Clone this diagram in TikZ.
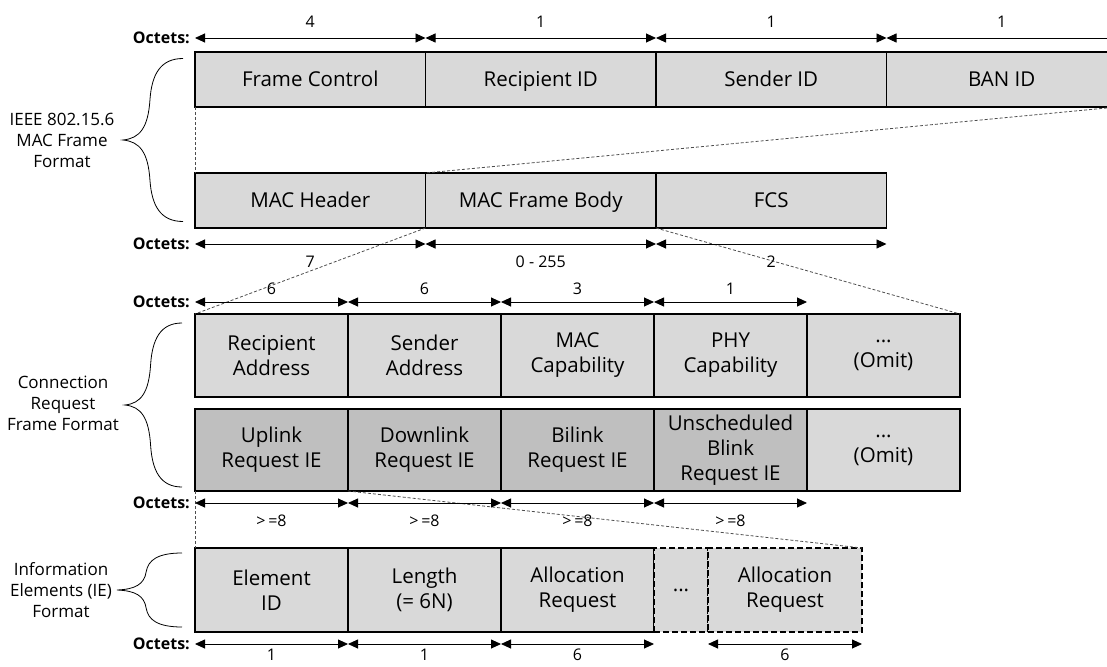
\documentclass[tikz,border=0pt]{standalone}
\usepackage{fontspec}
\setmainfont{Open Sans}
\usetikzlibrary{arrows.meta,positioning}

\definecolor{fieldgray}{HTML}{D9D9D9}
\definecolor{iegray}{HTML}{BFBFBF}
\definecolor{linegray}{HTML}{4D4D4D}

\tikzset{
  field/.style={draw, line width=1.4pt, fill=fieldgray, inner sep=0pt, outer sep=0pt,
    align=center, font=\fontsize{20.5}{25}\selectfont},
  widefield/.style={field, minimum width=230.5pt, minimum height=55pt, text height=14.6pt, text depth=0pt},
  cellfield/.style={field, minimum width=153pt, minimum height=83pt},
  iefield/.style={cellfield, fill=iegray},
  dashfield/.style={field, dash pattern=on 6pt off 3pt, minimum height=84pt},
  octsize/.style={{Triangle[length=10pt,width=9pt]}-{Triangle[length=10pt,width=9pt]}, line width=0.9pt},
  octets/.style={anchor=east, inner sep=0pt, font=\bfseries\fontsize{16}{18}\selectfont},
  num/.style={font=\fontsize{16}{18}\selectfont},
  zoomline/.style={dash pattern=on 3pt off 2pt, linegray, line width=0.8pt},
  fmtlabel/.style={align=center, font=\fontsize{17}{21}\selectfont},
  pics/fbrace/.style={code={
    \draw[line width=0.8pt] (1,1) .. controls (0.62,1) and (0.48,0.8) .. (0.45,0.5)
      .. controls (0.42,0.15) and (0.28,0.02) .. (0,0)
      .. controls (0.28,-0.02) and (0.42,-0.15) .. (0.45,-0.5)
      .. controls (0.48,-0.8) and (0.62,-1) .. (1,-1);
  }}
}

\begin{document}
\begin{tikzpicture}[x=1pt,y=-1pt]
\useasboundingbox (0,0) rectangle (1107,666);
\clip (0,0) rectangle (1107,666);

% MAC header fields
\node[widefield, anchor=north west] (fc) at (195,52) {Frame Control};
\node[widefield, right=0pt of fc] (rid) {Recipient ID};
\node[widefield, right=0pt of rid] (sid) {Sender ID};
\node[widefield, right=0pt of sid] (ban) {BAN ID};

% MAC frame
\node[widefield, anchor=north west] (mh) at (195,173) {MAC Header};
\node[widefield, right=0pt of mh] (body) {MAC Frame Body};
\node[widefield, right=0pt of body] (fcs) {FCS};

% connection request frame
\node[cellfield, anchor=north west] (raddr) at (195,314) {Recipient\\Address};
\node[cellfield, right=0pt of raddr] (saddr) {Sender\\Address};
\node[cellfield, right=0pt of saddr] (maccap) {MAC\\Capability};
\node[cellfield, right=0pt of maccap] (phycap) {PHY\\Capability};
\node[cellfield, right=0pt of phycap] (omit1) {...\\(Omit)};

\node[iefield, anchor=north west, minimum height=82pt] (uplink) at (195,409) {Uplink\\Request IE};
\node[iefield, right=0pt of uplink, minimum height=82pt] (downlink) {Downlink\\Request IE};
\node[iefield, right=0pt of downlink, minimum height=82pt] (bilink) {Bilink\\Request IE};
\node[iefield, right=0pt of bilink, minimum height=82pt] (blink) {Unscheduled\\Blink\\Request IE};
\node[cellfield, right=0pt of blink, minimum height=82pt] (omit2) {...\\(Omit)};

% information element
\node[cellfield, anchor=north west, minimum height=84pt] (eid) at (195,548) {Element\\ID};
\node[cellfield, right=0pt of eid, minimum height=84pt] (len) {Length\\(= 6N)};
\node[cellfield, right=0pt of len, minimum height=84pt] (alloc1) {Allocation\\Request};
\node[dashfield, right=0pt of alloc1, minimum width=54pt] (more) {...};
\node[dashfield, right=0pt of more, minimum width=154pt] (alloc2) {Allocation\\Request};

% zoom lines
\draw[zoomline] (fc.south west) -- (mh.north west);
\draw[zoomline] (ban.south east) -- (body.north west);
\draw[zoomline] (body.south west) -- (raddr.north west);
\draw[zoomline] (body.south east) -- (omit1.north east);
\draw[zoomline] (uplink.south west) -- (eid.north west);
\draw[zoomline] (uplink.south east) -- (alloc2.north east);

% octet sizes
\node[octets] (oct1) at (190,38) {Octets:};
\draw[octsize] ([yshift=14pt]fc.north west) -- ([yshift=14pt]fc.north east) node[num, midway, above=7pt] {4};
\draw[octsize] ([yshift=14pt]rid.north west) -- ([yshift=14pt]rid.north east) node[num, midway, above=7pt] {1};
\draw[octsize] ([yshift=14pt]sid.north west) -- ([yshift=14pt]sid.north east) node[num, midway, above=7pt] {1};
\draw[octsize] ([yshift=14pt]ban.north west) -- ([yshift=14pt]ban.north east) node[num, midway, above=7pt] {1};

\node[octets] (oct2) at (190,244) {Octets:};
\draw[octsize] ([yshift=-16pt]mh.south west) -- ([yshift=-16pt]mh.south east) node[num, midway, below=8pt] {7};
\draw[octsize] ([yshift=-16pt]body.south west) -- ([yshift=-16pt]body.south east) node[num, midway, below=8pt] {0 - 255};
\draw[octsize] ([yshift=-16pt]fcs.south west) -- ([yshift=-16pt]fcs.south east) node[num, midway, below=8pt] {2};

\node[octets] (oct3) at (190,302) {Octets:};
\draw[octsize] ([yshift=12pt]raddr.north west) -- ([yshift=12pt]raddr.north east) node[num, midway, above=4pt] {6};
\draw[octsize] ([yshift=12pt]saddr.north west) -- ([yshift=12pt]saddr.north east) node[num, midway, above=4pt] {6};
\draw[octsize] ([yshift=12pt]maccap.north west) -- ([yshift=12pt]maccap.north east) node[num, midway, above=4pt] {3};
\draw[octsize] ([yshift=12pt]phycap.north west) -- ([yshift=12pt]phycap.north east) node[num, midway, above=4pt] {1};

\node[octets] (oct4) at (190,503) {Octets:};
\draw[octsize] ([yshift=-12pt]uplink.south west) -- ([yshift=-12pt]uplink.south east) node[num, midway, below=8pt] {>\,=8};
\draw[octsize] ([yshift=-12pt]downlink.south west) -- ([yshift=-12pt]downlink.south east) node[num, midway, below=8pt] {>\,=8};
\draw[octsize] ([yshift=-12pt]bilink.south west) -- ([yshift=-12pt]bilink.south east) node[num, midway, below=8pt] {>\,=8};
\draw[octsize] ([yshift=-12pt]blink.south west) -- ([yshift=-12pt]blink.south east) node[num, midway, below=8pt] {>\,=8};

\node[octets] (oct5) at (190,644) {Octets:};
\draw[octsize] ([yshift=-12pt]eid.south west) -- ([yshift=-12pt]eid.south east) node[num, midway, below=1pt] {1};
\draw[octsize] ([yshift=-12pt]len.south west) -- ([yshift=-12pt]len.south east) node[num, midway, below=1pt] {1};
\draw[octsize] ([yshift=-12pt]alloc1.south west) -- ([yshift=-12pt]alloc1.south east) node[num, midway, below=1pt] {6};
\draw[octsize] ([yshift=-12pt]alloc2.south west) -- ([yshift=-12pt]alloc2.south east) node[num, midway, below=1pt] {6};

% format braces
\pic[xscale=60, yscale=81.5] at (123,140) {fbrace};
\node[fmtlabel] (macfmt) at (62,140) {IEEE 802.15.6\\MAC Frame\\Format};
\pic[xscale=57, yscale=82] at (125,405) {fbrace};
\node[fmtlabel] (crfmt) at (63,403) {Connection\\Request\\Frame Format};
\pic[xscale=65, yscale=37] at (117,590) {fbrace};
\node[fmtlabel] (iefmt) at (61,590) {Information\\Elements (IE)\\Format};
\end{tikzpicture}
\end{document}
